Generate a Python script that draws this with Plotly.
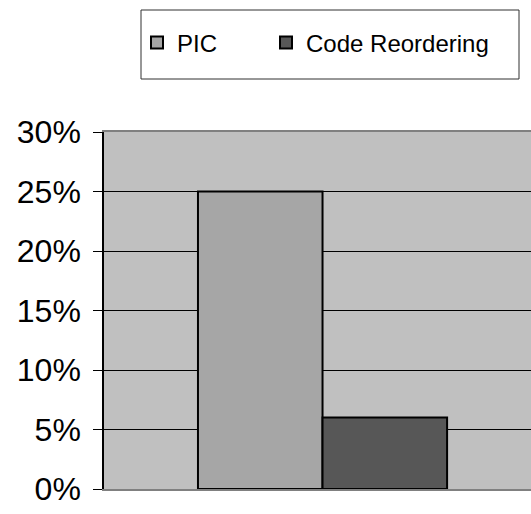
import plotly.graph_objects as go

# Share of improvement for each technique (percent)
series_names = ["PIC", "Code Reordering"]
series_values = [25, 6]
series_colors = ["#a6a6a6", "#575757"]
y_ticks = [0, 5, 10, 15, 20, 25, 30]
y_tick_text = [f"{v}%" for v in y_ticks]

# Horizontal pixel where each legend entry begins
legend_left_px = [137, 266]
legend_ids = ["legend", "legend2"]

fig = go.Figure()
for name, val, col, lid in zip(series_names, series_values, series_colors, legend_ids):
    fig.add_trace(go.Bar(
        x=[0], y=[val], name=name, legend=lid,
        marker=dict(color=col, line=dict(color="#000000", width=2)),
    ))

legend_style = dict(
    orientation="h",
    xanchor="left",
    y=1 + (132 - 43) / 357, yanchor="middle",
    font=dict(size=24, color="#000000"),
    bgcolor="rgba(0,0,0,0)",
    borderwidth=0,
)

fig.update_layout(
    width=531, height=514,
    margin=dict(l=104, r=0, t=132, b=25),
    paper_bgcolor="#ffffff",
    plot_bgcolor="#c0c0c0",
    barmode="group",
    bargap=0.43,
    bargroupgap=0,
    font=dict(family="Liberation Sans, Arial, sans-serif", color="#000000"),
    showlegend=True,
    legend=dict(legend_style, x=(legend_left_px[0] - 104) / 427),
    legend2=dict(legend_style, x=(legend_left_px[1] - 104) / 427),
    xaxis=dict(
        range=[-0.5, 0.477],
        showticklabels=False, ticks="",
        showgrid=False, zeroline=False,
        showline=True, linecolor="#808080", linewidth=2, mirror=True,
        fixedrange=True,
    ),
    yaxis=dict(
        range=[0, 30],
        tickvals=y_ticks, ticktext=y_tick_text,
        ticks="outside", ticklen=9, tickcolor="#000000", tickwidth=1,
        ticklabelstandoff=6,
        tickfont=dict(size=32, color="#000000"),
        showgrid=True, gridcolor="#000000", gridwidth=1,
        zeroline=False,
        showline=True, linecolor="#000000", linewidth=1.5,
        fixedrange=True,
    ),
    shapes=[dict(
        type="rect", xref="paper", yref="paper",
        x0=(141 - 104) / 427, x1=(519 - 104) / 427,
        y0=1 + (132 - 79) / 357, y1=1 + (132 - 10) / 357,
        line=dict(color="#303030", width=1),
        fillcolor="rgba(0,0,0,0)",
    )],
)

fig.write_html("out.html")
